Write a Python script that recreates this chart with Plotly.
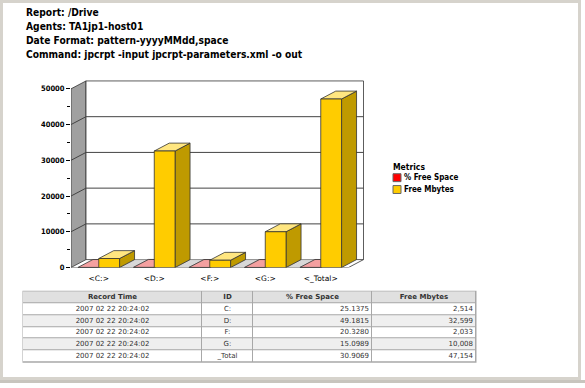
import plotly.graph_objects as go

# ---------------- data ----------------
categories = ["<C:>", "<D:>", "<F:>", "<G:>", "<_Total>"]
drive_ids = ["C:", "D:", "F:", "G:", "_Total"]
record_times = ["2007 02 22 20:24:02"] * 5
pct_free_space = [25.1375, 49.1815, 20.3280, 15.0989, 30.9069]
free_mbytes = [2514, 32599, 2033, 10008, 47154]
y_tick_step = 10000
y_tick_max = 50000
series_names = ["% Free Space", "Free Mbytes"]
table_headers = ["Record Time", "ID", "% Free Space", "Free Mbytes"]
header_lines = [
    "Report: /Drive",
    "Agents: TA1jp1-host01",
    "Date Format: pattern-yyyyMMdd,space",
    "Command: jpcrpt -input jpcrpt-parameters.xml -o out",
]
legend_title = "Metrics"

# ---------------- geometry / style ----------------
W, H = 585, 388
def px(x): return x / W
def py(y): return 1 - y / H

FONT = "DejaVu Sans"
FONT_C = "DejaVu Sans Condensed"
CAT_PX = 55.5           # pixel width of one category
Y_PER_PX = y_tick_max / 181.0
DX = 15 / CAT_PX        # depth offset in x units
DY = 8 * Y_PER_PX       # depth offset in y units
BAR_W = 0.375
AX_L, AX_R, AX_B, AX_T = 71, 368, 271, 80
x_range = [-0.5, -0.5 + (AX_R - AX_L) / CAT_PX]
y_range = [0, (AX_B - AX_T) * Y_PER_PX]
n = len(categories)
x_front_l = -0.5
x_front_r = n - 0.5

EDGE = "#333333"
colors = {
    "% Free Space": dict(front="#FF0000", top="#F4A0A0", side="#B00000", swatch="#FF0000"),
    "Free Mbytes": dict(front="#FFCC00", top="#FFE680", side="#BF9A00", swatch="#FFCC00"),
}

fig = go.Figure()

def poly(xs, ys, fill, line=EDGE, width=0.8):
    fig.add_trace(go.Scatter(
        x=list(xs) + [xs[0]], y=list(ys) + [ys[0]], mode="lines", fill="toself",
        fillcolor=fill, line=dict(color=line, width=width), showlegend=False,
        hoverinfo="skip"))

# left wall
poly([x_front_l, x_front_l, x_front_l + DX, x_front_l + DX],
     [0, y_tick_max, y_tick_max + DY, DY], "#A0A0A0")
# back wall
poly([x_front_l + DX, x_front_r + DX, x_front_r + DX, x_front_l + DX],
     [DY, DY, y_tick_max + DY, y_tick_max + DY], "white")
# grid lines on back wall
gx, gy = [], []
for v in range(y_tick_step, y_tick_max, y_tick_step):
    gx += [x_front_l, x_front_l + DX, x_front_r + DX, None]
    gy += [v, v + DY, v + DY, None]
fig.add_trace(go.Scatter(x=gx, y=gy, mode="lines", line=dict(color="#444444", width=1),
                         showlegend=False, hoverinfo="skip"))
# floor outline
fig.add_trace(go.Scatter(x=[x_front_l, x_front_r, x_front_r + DX], y=[0, 0, DY], mode="lines",
                         line=dict(color=EDGE, width=0.8), showlegend=False, hoverinfo="skip"))

# floor gaps between categories
for i in range(n - 1):
    a = i + BAR_W
    b = i + 1 - BAR_W
    poly([a, b, b + DX, a + DX], [0, 0, DY, DY], "#D8D8D8", line="#888888", width=0.5)

def bar3d(x0, v, c):
    x1 = x0 + BAR_W
    poly([x1, x1 + DX, x1 + DX, x1], [0, DY, v + DY, v], c["side"])
    poly([x0, x1, x1 + DX, x0 + DX], [v, v, v + DY, v + DY], c["top"])
    poly([x0, x1, x1, x0], [0, 0, v, v], c["front"])

for i in range(n):
    bar3d(i - BAR_W, pct_free_space[i], colors["% Free Space"])
    bar3d(i, free_mbytes[i], colors["Free Mbytes"])

# ---------------- table (heatmap cells + text) ----------------
col_widths = [179, 51, 119, 104]
col_edges = [0]
for w in col_widths:
    col_edges.append(col_edges[-1] + w)
col_align = ["center", "center", "right", "right"]
table_cols = [record_times, drive_ids,
              [f"{v:.4f}" for v in pct_free_space],
              [f"{v:,}" for v in free_mbytes]]
n_rows = n + 1
z = [[2] * len(col_widths)] + [[k % 2] * len(col_widths) for k in range(n)]
fig.add_trace(go.Heatmap(
    x=col_edges, y=list(range(n_rows)), z=z, xaxis="x2", yaxis="y2",
    zmin=0, zmax=2, showscale=False, xgap=1, ygap=1, hoverinfo="skip",
    colorscale=[[0, "#FFFFFF"], [0.5, "#EFEFEF"], [1, "#E0E0E0"]]))
PAD = 3
for j, w in enumerate(col_widths):
    cx = (col_edges[j] + col_edges[j + 1]) / 2
    # header
    fig.add_trace(go.Scatter(
        x=[cx], y=[0], mode="text", text=[table_headers[j]], textposition="middle center",
        textfont=dict(family=FONT, size=7, color="#333333", weight="bold"),
        xaxis="x2", yaxis="y2", showlegend=False, hoverinfo="skip"))
    if col_align[j] == "center":
        xs, tp = [cx] * n, "middle center"
    else:
        xs, tp = [col_edges[j + 1] - PAD] * n, "middle left"
    fig.add_trace(go.Scatter(
        x=xs, y=list(range(1, n_rows)), mode="text", text=table_cols[j], textposition=tp,
        textfont=dict(family=FONT, size=7, color="#333333"),
        xaxis="x2", yaxis="y2", showlegend=False, hoverinfo="skip"))

T_L, T_R, T_T, T_B = 23, 476, 295, 367

# ---------------- layout ----------------
annotations = []
for k, t in enumerate(header_lines):
    annotations.append(dict(text=f"<b>{t}</b>", x=px(24), y=py(13 + k * 14), xref="paper", yref="paper",
                            xanchor="left", yanchor="middle", showarrow=False,
                            font=dict(family=FONT_C, size=10.2, color="#000000")))
annotations.append(dict(text=f"<b>{legend_title}</b>", x=px(391), y=py(169), xref="paper", yref="paper",
                        xanchor="left", yanchor="middle", showarrow=False,
                        font=dict(family=FONT_C, size=8.5, color="#000000")))
shapes = []
for k, s in enumerate(series_names):
    yc = 180 + k * 12
    shapes.append(dict(type="rect", xref="paper", yref="paper", x0=px(393), x1=px(401),
                       y0=py(yc + 4), y1=py(yc - 4), fillcolor=colors[s]["swatch"],
                       line=dict(color="#666666", width=1)))
    annotations.append(dict(text=f"<b>{s}</b>", x=px(402), y=py(yc), xref="paper", yref="paper",
                            xanchor="left", yanchor="middle", showarrow=False,
                            font=dict(family=FONT_C, size=8, color="#000000")))
# table border backdrop (shows through the cell gaps)
shapes.append(dict(type="rect", xref="paper", yref="paper", x0=px(T_L - 0.5), x1=px(T_R + 0.5),
                   y0=py(T_B + 0.5), y1=py(T_T - 0.5), fillcolor="#A8A8A8",
                   line=dict(width=0), layer="below"))
# window frame
shapes.append(dict(type="rect", xref="paper", yref="paper", x0=px(1.5), x1=px(579.5),
                   y0=py(383.5), y1=py(1.5), line=dict(color="#D6D3CC", width=3), layer="below"))
shapes.append(dict(type="rect", xref="paper", yref="paper", x0=px(0), x1=px(585),
                   y0=py(388), y1=py(385), fillcolor="#C8C5BE", line=dict(width=0), layer="below"))

fig.update_layout(
    width=W, height=H, margin=dict(l=0, r=0, t=0, b=0),
    paper_bgcolor="white", plot_bgcolor="rgba(0,0,0,0)",
    showlegend=False, annotations=annotations, shapes=shapes,
    xaxis=dict(domain=[px(AX_L), px(AX_R)], range=x_range, tickmode="array",
               tickvals=list(range(n)), ticktext=categories, ticks="", showgrid=False,
               zeroline=False, showline=False, fixedrange=True, ticklabelstandoff=5,
               tickfont=dict(family=FONT, size=7.5, color="#000000")),
    yaxis=dict(domain=[py(AX_B), py(AX_T)], range=y_range, tick0=0, dtick=y_tick_step,
               tickformat="d",
               ticks="outside", ticklen=4, tickcolor="#000000", showgrid=False,
               zeroline=False, showline=False, fixedrange=True,
               minor=dict(dtick=y_tick_step / 2, ticks="outside", ticklen=3, tickcolor="#000000"),
               tickfont=dict(family=FONT_C, size=7.5, color="#000000", weight="bold")),
    xaxis2=dict(domain=[px(T_L), px(T_R)], range=[col_edges[0], col_edges[-1]], visible=False,
                anchor="y2", fixedrange=True),
    yaxis2=dict(domain=[py(T_B), py(T_T)], range=[n_rows - 0.5, -0.5], visible=False,
                anchor="x2", fixedrange=True),
)

fig.write_html("out.html", config={"displayModeBar": False},
               post_script="document.body.style.margin='0';document.body.style.padding='0';"
                           "document.body.style.overflow='hidden';")
